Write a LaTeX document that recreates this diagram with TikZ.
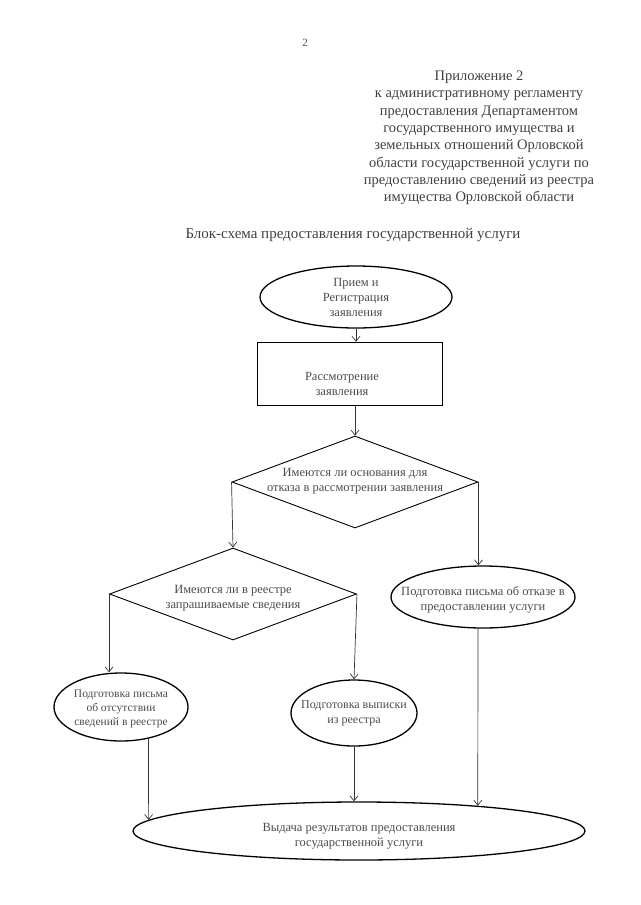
\documentclass[tikz,border=0pt]{standalone}
\usepackage{fontspec}
\setmainfont{Liberation Serif}
\usetikzlibrary{shapes.geometric,arrows.meta}
\begin{document}
\begin{tikzpicture}[x=1pt,y=-1pt,
  lbl/.style={text=black!70, font=\fontsize{12.5}{15}\selectfont, align=center},
  oval/.style={ellipse, draw=black, line width=1.3pt, inner sep=0pt},
  box/.style={rectangle, draw=black, line width=1.4pt, inner sep=0pt},
  dia/.style={diamond, draw=black, line width=0.9pt, inner sep=0pt},
  arr/.style={draw=black!80, line width=0.7pt, -{Straight Barb[length=5pt,width=8pt]}}]
\useasboundingbox (0,0) rectangle (640,905);
\node[text=black!70, font=\fontsize{11}{12}\selectfont] (pg) at (305,43) {2};
\node[text=black!75, font=\fontsize{14.5}{17.3}\selectfont, align=center] (hdr) at (479,138)
  {Приложение 2\\к административному регламенту\\предоставления Департаментом\\государственного имущества и\\земельных отношений Орловской\\области государственной услуги по\\предоставлению сведений из реестра\\имущества Орловской области};
\node[text=black!75, font=\fontsize{15}{17}\selectfont] (title) at (353,235)
  {Блок-схема предоставления государственной услуги};

\node[oval, minimum width=192, minimum height=62,
  label={[lbl]center:Прием и\\Регистрация\\заявления}] (e1) at (356,297) {};
\node[box, minimum width=185, minimum height=63,
  label={[lbl, xshift=-8pt, yshift=-10pt]center:Рассмотрение\\заявления}] (r1) at (350,374) {};
\node[dia, minimum width=246, minimum height=92,
  label={[lbl, yshift=1pt]center:Имеются ли основания для\\отказа в рассмотрении заявления}] (d1) at (355,482) {};
\node[dia, minimum width=247, minimum height=92,
  label={[lbl, yshift=-4pt]center:Имеются ли в реестре\\запрашиваемые сведения}] (d2) at (233,594) {};
\node[oval, minimum width=184, minimum height=62,
  label={[lbl, yshift=-3pt]center:Подготовка письма об отказе в\\предоставлении услуги}] (e3) at (483,597) {};
\node[oval, minimum width=134, minimum height=68,
  label={[lbl, font=\fontsize{11.5}{14}\selectfont, yshift=-2pt]center:Подготовка письма\\об отсутствии\\сведений в реестре}] (e4) at (121,707) {};
\node[oval, minimum width=126, minimum height=66,
  label={[lbl, font=\fontsize{12}{15}\selectfont]center:Подготовка выписки\\из реестра}] (e5) at (354,713) {};
\node[oval, minimum width=452, minimum height=58,
  label={[lbl, yshift=-5pt]center:Выдача результатов предоставления\\государственной услуги}] (e6) at (359,831) {};

\draw[arr] (e1.south) -- (e1.south |- r1.north);
\draw[arr] (d1.north |- r1.south) -- (d1.north);
\draw[arr] (d1.west) -- (d2.north);
\draw[arr] (d1.east) -- (d1.east |- e3.north);
\draw[arr] (d2.west) -- (d2.west |- e4.north);
\draw[arr] (d2.east) -- (e5.north);
\draw[arr] (e4.-49) -- (e6.177.5);
\draw[arr] (e5.south) -- (e5.south |- e6.north);
\draw[arr] (e3.-99) -- (e6.12.5);
\end{tikzpicture}
\end{document}
